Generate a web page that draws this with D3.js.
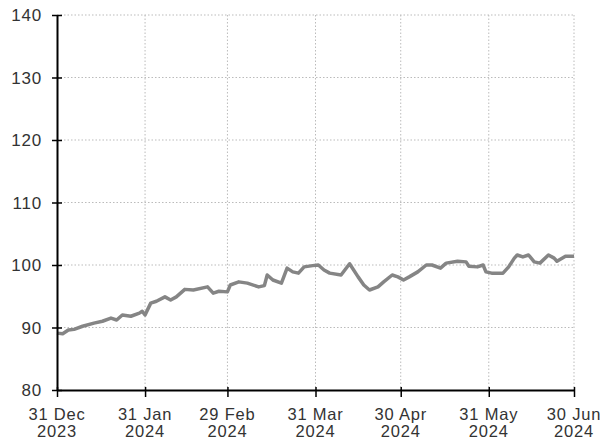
<!DOCTYPE html>
<html><head><meta charset="utf-8">
<script src="https://cdn.jsdelivr.net/npm/d3@7"></script>
<style>body{margin:0;background:#fff}svg text{font-family:"Liberation Sans",Arial,sans-serif}</style>
</head><body>
<svg id="c" width="605" height="441"></svg>
<script>
const dates = ["2023-12-31","2024-01-02","2024-01-04","2024-01-06","2024-01-09","2024-01-13","2024-01-16","2024-01-19","2024-01-21","2024-01-23","2024-01-26","2024-01-29","2024-01-30","2024-01-31","2024-02-02","2024-02-04","2024-02-07","2024-02-09","2024-02-11","2024-02-14","2024-02-17","2024-02-22","2024-02-24","2024-02-26","2024-02-29","2024-03-01","2024-03-04","2024-03-07","2024-03-11","2024-03-13","2024-03-14","2024-03-16","2024-03-19","2024-03-21","2024-03-23","2024-03-25","2024-03-27","2024-03-30","2024-04-01","2024-04-03","2024-04-05","2024-04-09","2024-04-12","2024-04-15","2024-04-17","2024-04-19","2024-04-22","2024-04-24","2024-04-27","2024-04-29","2024-05-01","2024-05-03","2024-05-06","2024-05-09","2024-05-11","2024-05-14","2024-05-16","2024-05-20","2024-05-23","2024-05-24","2024-05-27","2024-05-29","2024-05-30","2024-06-01","2024-06-03","2024-06-05","2024-06-07","2024-06-09","2024-06-10","2024-06-12","2024-06-14","2024-06-16","2024-06-18","2024-06-21","2024-06-23","2024-06-24","2024-06-27","2024-06-30"];
const values = [89.1,89.0,89.6,89.7,90.2,90.7,91.0,91.5,91.2,92.0,91.8,92.3,92.6,92.0,93.9,94.2,94.9,94.4,94.9,96.1,96.0,96.5,95.5,95.8,95.7,96.8,97.3,97.1,96.5,96.7,98.4,97.6,97.1,99.5,98.9,98.7,99.7,99.9,100.0,99.2,98.7,98.4,100.2,98.1,96.8,96.0,96.5,97.3,98.4,98.1,97.6,98.1,98.9,100.0,100.0,99.5,100.3,100.6,100.5,99.8,99.7,100.0,98.9,98.7,98.7,98.7,99.7,101.1,101.6,101.3,101.6,100.5,100.3,101.6,101.1,100.6,101.4,101.4];
const xTickDates = ["2023-12-31","2024-01-31","2024-02-29","2024-03-31","2024-04-30","2024-05-31","2024-06-30"];
const xTickLabels = [["31 Dec","2023"],["31 Jan","2024"],["29 Feb","2024"],["31 Mar","2024"],["30 Apr","2024"],["31 May","2024"],["30 Jun","2024"]];
const yTicks = [80,90,100,110,120,130,140];

const parse = d3.utcParse("%Y-%m-%d");
const data = dates.map((d,i)=>({date:parse(d), v:values[i]}));
const svg = d3.select("#c");
const L=57, R=574, T=15, B=390;
const x = d3.scaleUtc().domain([parse(xTickDates[0]), parse(xTickDates[xTickDates.length-1])]).range([L,R]);
const y = d3.scaleLinear().domain([80,140]).range([B,T]);

// grid
const g = svg.append("g");
g.selectAll("line.h").data(yTicks.slice(1)).join("line")
  .attr("x1",L).attr("x2",R).attr("y1",d=>y(d)).attr("y2",d=>y(d))
  .attr("stroke","#bbb").attr("stroke-width",1).attr("stroke-dasharray","1.5,2");
g.selectAll("line.v").data(xTickDates.slice(1)).join("line")
  .attr("x1",d=>x(parse(d))).attr("x2",d=>x(parse(d))).attr("y1",T).attr("y2",B)
  .attr("stroke","#bbb").attr("stroke-width",1).attr("stroke-dasharray","1.5,2");

// line
svg.append("path").datum(data)
  .attr("fill","none").attr("stroke","#858585").attr("stroke-width",3.5).attr("stroke-linejoin","round")
  .attr("d", d3.line().x(d=>x(d.date)).y(d=>y(d.v)));

// y axis
const ya = svg.append("g").attr("transform",`translate(${L},0)`)
  .call(d3.axisLeft(y).tickValues(yTicks).tickSize(5).tickSizeOuter(0).tickPadding(10));
ya.select(".domain").attr("stroke","#000").attr("stroke-width",2);
ya.selectAll(".tick line").attr("x2",5).attr("x1",-5).attr("stroke","#000").attr("stroke-width",1.5);
ya.selectAll("text").attr("font-size",17).attr("letter-spacing","0.8px").attr("fill","#333").attr("x",-15).attr("dy","0.35em");

// x axis
const xa = svg.append("g").attr("transform",`translate(0,${B})`)
  .call(d3.axisBottom(x).tickValues(xTickDates.map(parse)).tickSize(7).tickSizeOuter(0).tickFormat(""));
xa.select(".domain").attr("stroke","#000").attr("stroke-width",2);
xa.selectAll(".tick line").attr("y1",-3).attr("stroke","#000").attr("stroke-width",1.5);
xa.selectAll(".tick text").remove();
xTickDates.forEach((d,i)=>{
  const t = svg.append("text").attr("x",x(parse(d))).attr("text-anchor","middle")
    .attr("font-size",16.5).attr("letter-spacing","0.8px").attr("fill","#333");
  t.append("tspan").attr("x",x(parse(d))).attr("y",420).text(xTickLabels[i][0]);
  t.append("tspan").attr("x",x(parse(d))).attr("y",437).text(xTickLabels[i][1]);
});
</script>
</body></html>
